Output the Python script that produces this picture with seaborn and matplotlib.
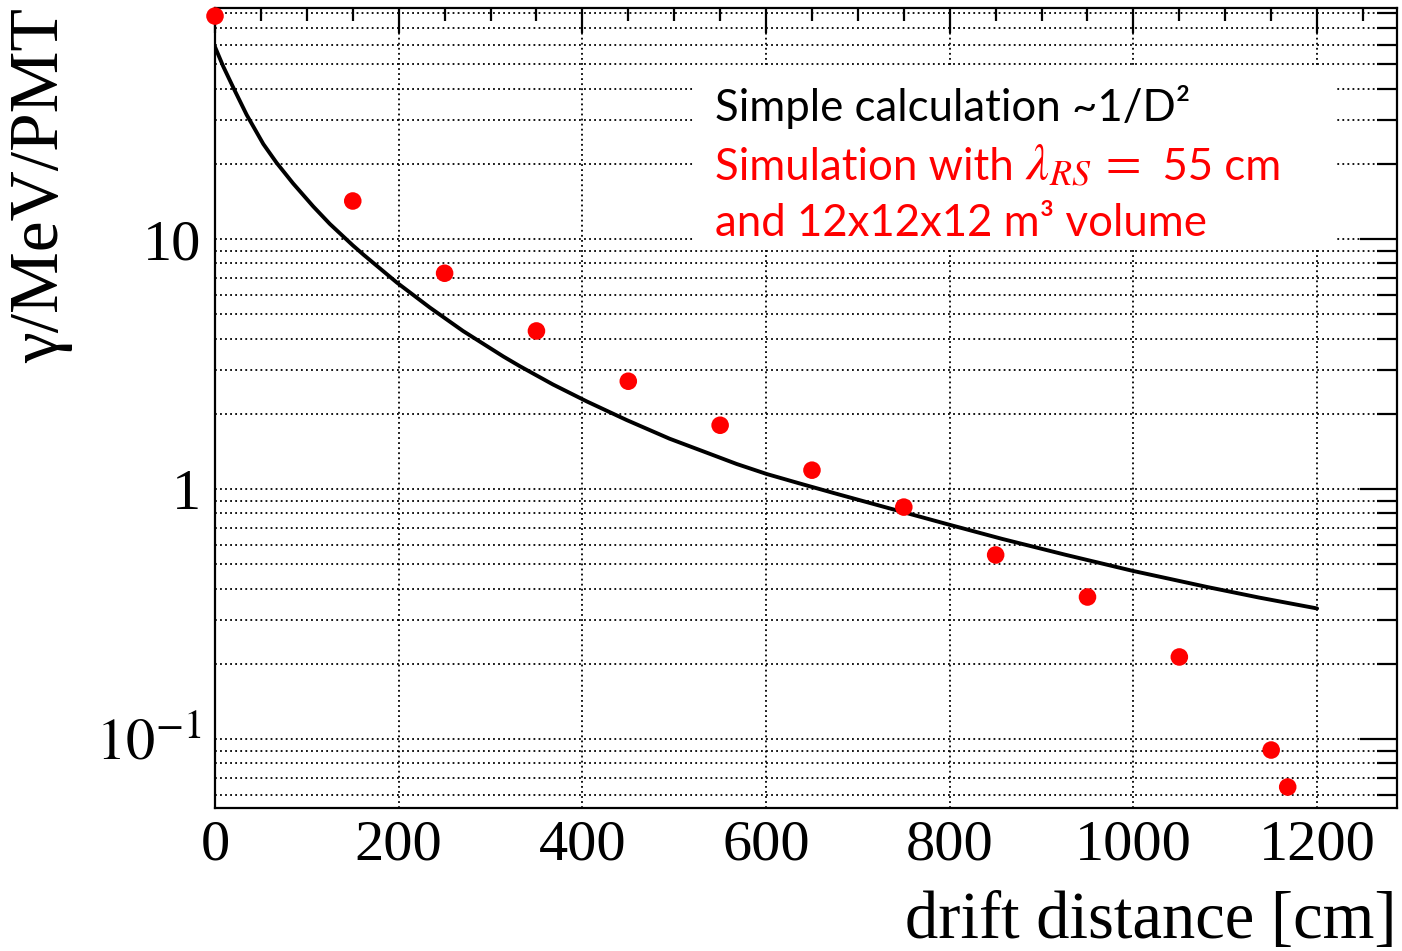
import matplotlib
matplotlib.use("Agg")
import matplotlib.pyplot as plt
import matplotlib.ticker as mticker
import seaborn as sns
import pandas as pd

# Simulation points (red)
sim_x = [0, 150, 250, 350, 450, 550, 650, 750, 850, 950, 1050, 1150, 1168]
sim_y = [78, 14.2, 7.3, 4.29, 2.70, 1.80, 1.19, 0.847, 0.545, 0.370, 0.213, 0.0904, 0.0643]

# Simple calculation curve (black)
calc_x = [0, 9, 20, 34.5, 52.6, 67, 85, 107, 125, 150, 161.5, 198, 234, 270, 314,
          332, 368, 405, 448, 495, 535, 568, 601, 637, 676, 734, 799, 857, 926,
          999, 1080, 1137, 1200]
calc_y = [58.7, 49.0, 40.3, 31.4, 24.0, 20.2, 16.7, 13.5, 11.5, 9.44, 8.67, 6.70,
          5.32, 4.29, 3.39, 3.10, 2.62, 2.24, 1.89, 1.59, 1.40, 1.26, 1.148, 1.052,
          0.959, 0.838, 0.721, 0.632, 0.546, 0.471, 0.406, 0.368, 0.333]

x_ticks = [0, 200, 400, 600, 800, 1000, 1200]
y_ticks = [0.1, 1, 10]
y_tick_labels = [r"$10^{-1}$", "1", "10"]

xlabel = "drift distance [cm]"
ylabel = "γ/MeV/PMT"
line1 = "Simple calculation ~1/D²"
line2_parts = ["Simulation with ", r"$\lambda_{RS}\,=$", "  55 cm"]
line3 = "and 12x12x12 m³ volume"

sns.set_theme(style="white")
plt.rcParams["font.family"] = ["Liberation Serif", "DejaVu Serif"]
plt.rcParams["mathtext.fontset"] = "stix"
plt.rcParams["text.color"] = "black"
plt.rcParams["axes.labelcolor"] = "black"

fig = plt.figure(figsize=(14.02, 9.51), dpi=100)
ax = fig.add_axes([215 / 1402, 1 - 808 / 951, 1182 / 1402, 800 / 951])

df_calc = pd.DataFrame({"x": calc_x, "y": calc_y})
df_sim = pd.DataFrame({"x": sim_x, "y": sim_y})

sns.lineplot(data=df_calc, x="x", y="y", ax=ax, color="black", lw=2.8, zorder=3,
             solid_joinstyle="round", solid_capstyle="round")
sns.scatterplot(data=df_sim, x="x", y="y", ax=ax, color="#ff0000", s=160,
                edgecolor="none", zorder=4, clip_on=False)

ax.set_yscale("log")
ax.set_xlim(0, 1287)
ax.set_ylim(0.053, 84)

ax.xaxis.set_major_locator(mticker.FixedLocator(x_ticks))
ax.xaxis.set_minor_locator(mticker.MultipleLocator(50))
ax.yaxis.set_major_locator(mticker.FixedLocator(y_ticks))
ax.yaxis.set_major_formatter(mticker.FixedFormatter(y_tick_labels))
ax.yaxis.set_minor_locator(mticker.LogLocator(base=10, subs=[2, 3, 4, 5, 6, 7, 8, 9]))
ax.yaxis.set_minor_formatter(mticker.NullFormatter())

ax.tick_params(axis="both", which="both", direction="in", top=True, right=True,
               colors="black", width=1.6, labelsize=42)
ax.tick_params(axis="x", which="major", length=18, pad=8)
ax.tick_params(axis="x", which="minor", length=9.5)
ax.tick_params(axis="y", which="major", length=26.5, pad=10)
ax.tick_params(axis="y", which="minor", length=14.5)

dot = (0, (1, 1.8))
ax.grid(True, which="major", axis="x", color="black", lw=1.3, linestyle=dot)
ax.grid(True, which="both", axis="y", color="black", lw=1.3, linestyle=dot)
ax.set_axisbelow(True)

for sp in ax.spines.values():
    sp.set_color("black")
    sp.set_linewidth(1.6)

ax.set_xlabel(xlabel, fontsize=48, loc="right", labelpad=14, color="black")
ax.set_ylabel(ylabel, fontsize=50, loc="top", labelpad=16, color="black")

# White box behind the annotation text
box = plt.Rectangle((0.404, 0.70), 0.545, 0.229, transform=ax.transAxes,
                    facecolor="white", edgecolor="none", zorder=2.5)
ax.add_patch(box)

tfam = ["Lato", "DejaVu Sans"]
x0 = 0.423
ax.text(x0, 0.859, line1, transform=ax.transAxes, fontsize=31.5, color="black",
        family=tfam, va="baseline", zorder=5)
ax.text(x0, 0.715, line3, transform=ax.transAxes, fontsize=31.5, color="#ff0000",
        family=tfam, va="baseline", zorder=5)

# second line assembled from pieces so the math part can be larger
fig.canvas.draw()
renderer = fig.canvas.get_renderer()
xcur = x0
sizes = [31.5, 37, 31.5]
for part, fs in zip(line2_parts, sizes):
    t = ax.text(xcur, 0.785, part, transform=ax.transAxes, fontsize=fs,
                color="#ff0000", family=tfam, va="baseline", zorder=5)
    bb = t.get_window_extent(renderer=renderer)
    xcur = ax.transAxes.inverted().transform((bb.x1, bb.y0))[0]

fig.savefig("out.png", dpi=100)
